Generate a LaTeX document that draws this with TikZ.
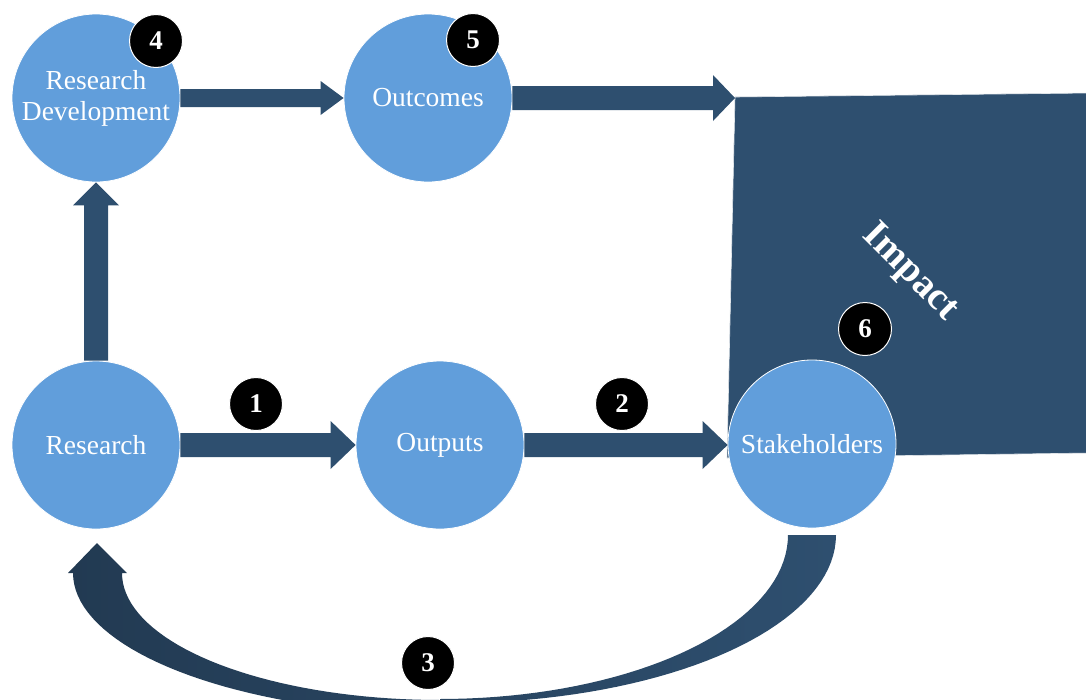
\documentclass[tikz,border=0pt]{standalone}
\usepackage{fontspec}
\setmainfont{Liberation Serif}
\usetikzlibrary{calc}
\definecolor{circblue}{RGB}{97,158,219}
\definecolor{darkblue}{RGB}{46,79,111}
\definecolor{darkerblue}{RGB}{34,58,82}
\newcommand\hblock[5]{%
  \fill[arrowfill] let \p1=(#1), \p2=(#2) in
    (\x1,\y1-#3) -- (\x2-#5,\y1-#3) -- (\x2-#5,\y1-#4) -- (\x2,\y1)
    -- (\x2-#5,\y1+#4) -- (\x2-#5,\y1+#3) -- (\x1,\y1+#3) -- cycle;}
\newcommand\vblock[5]{%
  \fill[arrowfill] let \p1=(#1), \p2=(#2) in
    (\x1-#3,\y1) -- (\x1-#3,\y2-#5) -- (\x1-#4,\y2-#5) -- (\x1,\y2)
    -- (\x1+#4,\y2-#5) -- (\x1+#3,\y2-#5) -- (\x1+#3,\y1) -- cycle;}
\begin{document}
\begin{tikzpicture}[x=1pt,y=-1pt,
  bubble/.style={circle, minimum size=168pt, inner sep=0pt, fill=circblue,
    draw=white, line width=0.8pt, text=white, align=center,
    font=\fontsize{27.5}{31}\selectfont},
  badge/.style={circle, minimum size=53pt, inner sep=0pt, fill=black,
    draw=white, line width=1pt, text=white, font=\bfseries\fontsize{27}{29}\selectfont},
  arrowfill/.style={fill=darkblue}]
\useasboundingbox (0,0) rectangle (1086,699);
% Impact region
\coordinate (imptl) at (735,97);
\coordinate (imptr) at (1090,93);
\coordinate (impbr) at (1090,453);
\coordinate (impbl) at (727,458);
\fill[darkblue, draw=white!85!darkblue, line width=0.6pt] (imptl) -- (imptr) -- (impbr) -- (impbl) -- cycle;
\node[rotate=-45, text=white, inner sep=0pt, font=\bfseries\fontsize{39}{42}\selectfont] (imptext) at (910,273) {Impact};
% node positions (for arrows)
\coordinate (rdc) at (96,98);
\coordinate (occ) at (428,98);
\coordinate (rc) at (96,445);
\coordinate (opc) at (440,445);
\coordinate (shc) at (812,444);
% curved feedback arrow
\begin{scope}
\clip (0,0) rectangle (1086,699);
\shade[left color=darkerblue, right color=darkblue]
  (836,535)
  -- plot[variable=\t, domain=0:90, samples=40] ({452+384*cos(\t)}, {535+168*sin(\t)})
  -- plot[variable=\t, domain=90:180, samples=40] ({452+379*cos(\t)}, {573+142*sin(\t)})
  -- (68,573) -- (97,543) -- (127,573) -- (122,573)
  -- plot[variable=\t, domain=180:90, samples=40] ({440+318*cos(\t)}, {573+127*sin(\t)})
  -- plot[variable=\t, domain=90:0, samples=40] ({440+348*cos(\t)}, {535+164*sin(\t)})
  -- cycle;
\end{scope}
% circles
\node[bubble] (rd) at (rdc) {Research\\Development};
\node[bubble] (oc) at (occ) {Outcomes};
\node[bubble] (r) at (rc) {Research};
\node[bubble] (op) at (opc) {Outputs};
\node[bubble] (sh) at (shc) {Stakeholders};
% straight block arrows
\hblock{rd.east}{oc.west}{9}{17}{23}
\hblock{oc.east}{imptl}{12}{23}{22}
\hblock{r.east}{op.west}{12}{24}{25}
\hblock{op.east}{sh.west}{12}{24}{25}
\vblock{r.north}{rd.south}{12}{23}{23}
% badges
\node[badge] (b4) at (156,41) {4};
\node[badge] (b5) at (473,40) {5};
\node[badge] (b6) at (865,329) {6};
\node[badge] (b1) at (256,404) {1};
\node[badge] (b2) at (622,404) {2};
\node[badge] (b3) at (428,663) {3};
\end{tikzpicture}
\end{document}
